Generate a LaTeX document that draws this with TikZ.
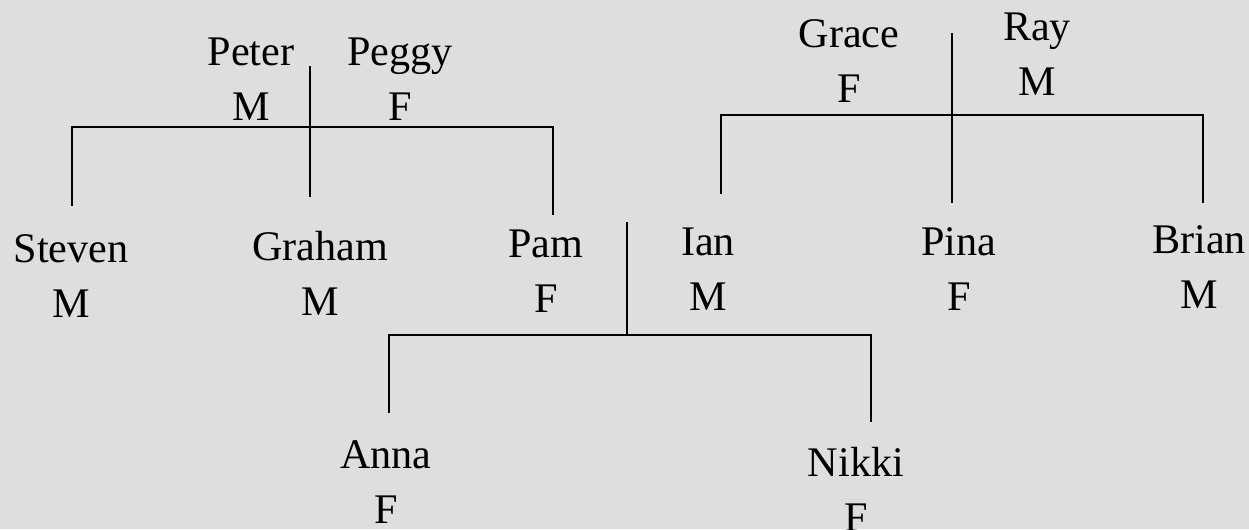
\documentclass[tikz,border=0pt]{standalone}
\usepackage{fontspec}
\setmainfont{Liberation Serif}
\usepackage{xcolor}
\usepackage{tikz}
\definecolor{paper}{HTML}{DEDEDE}
\tikzstyle{person} = [align=center,inner sep=0pt,anchor=base,font=\fontsize{24}{31}\selectfont]
\tikzstyle{line} = [line width=0.7pt,black]

\begin{document}
\begin{tikzpicture}[x=0.02cm,y=-0.02cm]
	
	%Background
	\fill [paper] (0,0) rectangle (1249,529);
	\useasboundingbox (0,0) rectangle (1249,529);
	
	% People:
	% First line of each node is the name, second line the sex,
	% the node sits on the baseline of the second line
	\node [person] (peter) at (251,120) {Peter\\M};
	\node [person] (peggy) at (400,120) {Peggy\\F};
	\node [person] (grace) at (849,102) {Grace\\F};
	\node [person] (ray) at (1037,95) {Ray\\M};
	
	\node [person] (steven) at (71,317) {Steven\\M};
	\node [person] (graham) at (320,315) {Graham\\M};
	\node [person] (pam) at (546,312) {Pam\\F};
	\node [person] (ian) at (708,310) {Ian\\M};
	\node [person] (pina) at (959,310) {Pina\\F};
	\node [person] (brian) at (1199,308) {Brian\\M};
	
	\node [person] (anna) at (386,523) {Anna\\F};
	\node [person] (nikki) at (856,531) {Nikki\\F};
	
	% Ends of the family lines
	\coordinate (pp top) at (310,66);
	\coordinate (pp bar) at (310,127);
	\coordinate (pp end) at (310,197);
	\coordinate (steven top) at (72,206);
	\coordinate (pam top) at (553,215);
	
	\coordinate (gr top) at (952,33);
	\coordinate (gr bar) at (952,115);
	\coordinate (gr end) at (952,203);
	\coordinate (ian top) at (721,194);
	\coordinate (brian top) at (1203,203);
	
	\coordinate (pi top) at (627,222);
	\coordinate (pi bar) at (627,335);
	\coordinate (anna top) at (389,413);
	\coordinate (nikki top) at (871,422);
	
	% Peter + Peggy
	\draw [line] (pp top) -- (pp end);
	\draw [line] (steven top) |- (pp bar) -| (pam top);
	
	% Grace + Ray
	\draw [line] (gr top) -- (gr end);
	\draw [line] (ian top) |- (gr bar) -| (brian top);
	
	% Pam + Ian
	\draw [line] (pi top) -- (pi bar);
	\draw [line] (anna top) |- (pi bar) -| (nikki top);
	
\end{tikzpicture}
\end{document}
